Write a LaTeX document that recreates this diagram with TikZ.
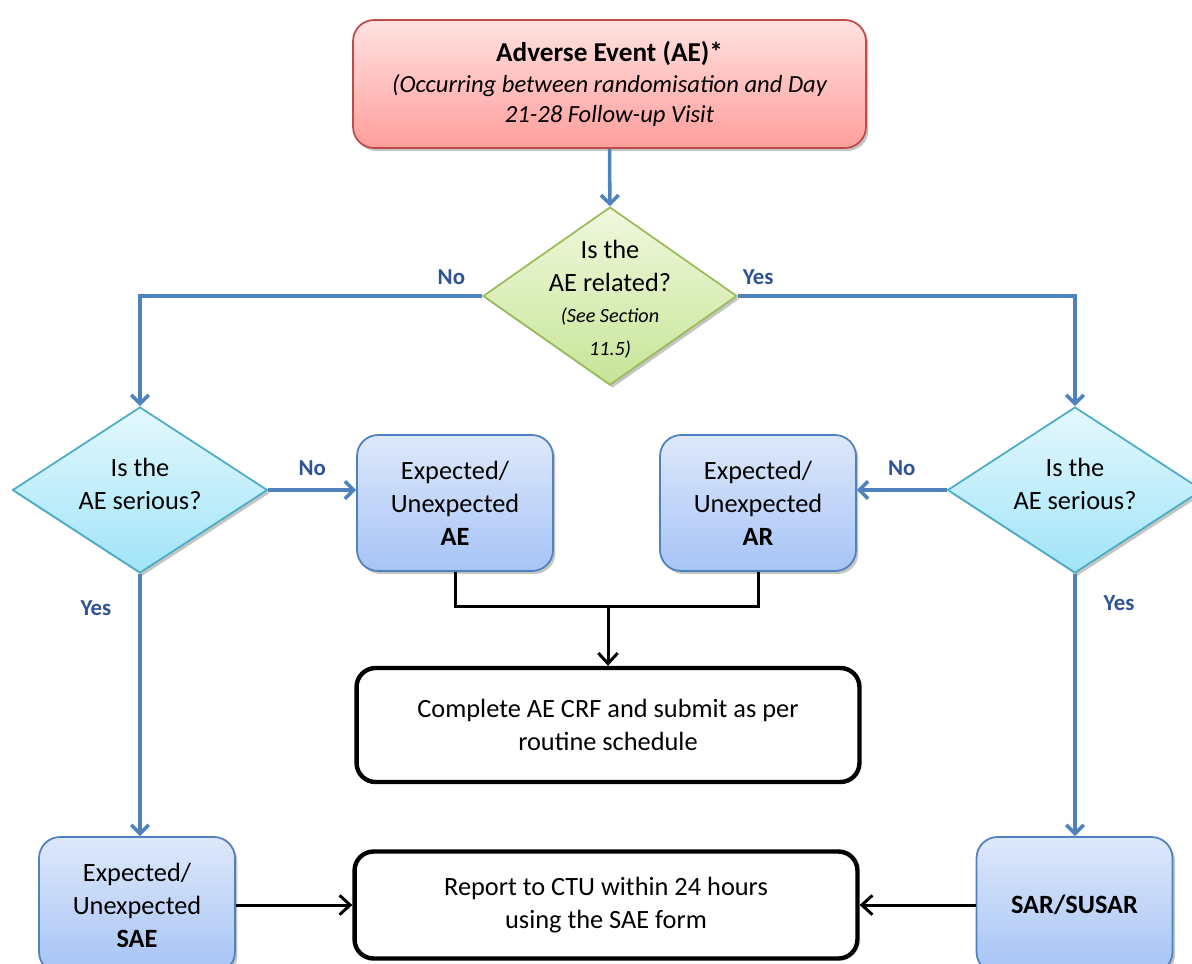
\documentclass[tikz,border=0pt]{standalone}
\usepackage{fontspec}
\setmainfont{Carlito}
\usepackage{tikz}
\usetikzlibrary{shapes.geometric,arrows.meta,positioning,shadows}

\definecolor{lineblue}{RGB}{79,129,189}
\definecolor{labelblue}{RGB}{47,84,150}
\definecolor{redline}{RGB}{190,75,72}
\definecolor{redtop}{RGB}{255,226,225}
\definecolor{redbot}{RGB}{255,158,155}
\definecolor{greenline}{RGB}{155,187,89}
\definecolor{greentop}{RGB}{240,248,222}
\definecolor{greenbot}{RGB}{198,229,151}
\definecolor{cyanline}{RGB}{75,172,198}
\definecolor{cyantop}{RGB}{228,248,253}
\definecolor{cyanbot}{RGB}{160,228,248}
\definecolor{bluetop}{RGB}{222,232,251}
\definecolor{bluebot}{RGB}{166,196,245}

\begin{document}
\begin{tikzpicture}[x=0.02cm,y=-0.02cm,
    txt/.style={font=\fontsize{15}{18.8}\selectfont, align=center},
    boxshadow/.style={drop shadow={shadow xshift=0.05cm, shadow yshift=-0.06cm, fill=black!45, opacity=0.5}},
    eventbox/.style={txt, rectangle, rounded corners=0.42cm, draw=redline, line width=1pt,
        top color=redtop, bottom color=redbot, boxshadow, minimum width=10.26cm, minimum height=2.56cm},
    relbox/.style={diamond, draw=greenline, line width=1pt, top color=greentop, bottom color=greenbot,
        boxshadow, minimum width=5.08cm, minimum height=3.56cm, inner sep=0pt},
    serbox/.style={diamond, draw=cyanline, line width=1pt, top color=cyantop, bottom color=cyanbot,
        boxshadow, minimum width=5.1cm, minimum height=3.32cm, inner sep=0pt},
    kindbox/.style={txt, rectangle, rounded corners=0.42cm, draw=lineblue, line width=1pt,
        top color=bluetop, bottom color=bluebot, boxshadow, minimum width=3.92cm, minimum height=2.72cm},
    actionbox/.style={txt, rectangle, rounded corners=0.38cm, draw=black, line width=2.5pt,
        fill=white, minimum width=10.06cm},
    bluearrow/.style={draw=lineblue, line width=2pt, -{Straight Barb[length=5pt,width=10pt]}},
    blackline/.style={draw=black, line width=1.7pt},
    blackarrow/.style={blackline, -{Straight Barb[length=6pt,width=11pt]}},
    answer/.style={font=\fontsize{13}{15}\selectfont\bfseries, text=labelblue}
]
    \useasboundingbox (0,0) rectangle (1192,963);

    % Start
    \node[eventbox] (event) at (609.5,84) {\textbf{\fontsize{15.5}{19}\selectfont Adverse Event (AE)*}\\[-1pt]
        \fontsize{14}{17}\selectfont\itshape (Occurring between randomisation and Day\\[-1.5pt]
        \fontsize{14}{17}\selectfont\itshape 21-28 Follow-up Visit};

    % Questions
    \node[relbox] (rel) at (610,296) {};
    \node[txt] (reltext) at (610,299) {Is the\\AE related?\\[-1pt]
        {\fontsize{11.5}{16.5}\selectfont\itshape (See Section}\\
        {\fontsize{11.5}{16.5}\selectfont\itshape 11.5)}};
    \node[serbox] (serL) at (140,490) {};
    \node[txt] (serLtext) at (140,484) {Is the\\AE serious?};
    \node[serbox] (serR) at (1075,490) {};
    \node[txt] (serRtext) at (1075,484) {Is the\\AE serious?};

    % Outcomes
    \node[kindbox] (ae) at (455,503) {Expected/\\Unexpected\\\textbf{AE}};
    \node[kindbox] (ar) at (758,503) {Expected/\\Unexpected\\\textbf{AR}};
    \node[kindbox] (sae) at (137,905) {Expected/\\Unexpected\\\textbf{SAE}};
    \node[kindbox] (sar) at (1074.5,905) {\textbf{SAR/SUSAR}};

    % Actions
    \node[actionbox, minimum height=2.28cm] (complete) at (608,725) {Complete AE CRF and submit as per\\routine schedule};
    \node[actionbox, minimum height=2.14cm] (report) at (606,905) {Report to CTU within 24 hours\\using the SAE form};
    \coordinate (join) at (608,606);

    % Connectors
    \draw[bluearrow] (event) -- (rel);
    \draw[bluearrow] (rel.west) -| node[answer, pos=0.045, above=2pt] {No} (serL.north);
    \draw[bluearrow] (rel.east) -| node[answer, pos=0.03, above=2pt] {Yes} (serR.north);
    \draw[bluearrow] (serL.east) -- node[answer, above=4pt] {No} (ae.west |- serL.east);
    \draw[bluearrow] (serR.west) -- node[answer, above=4pt] {No} (ar.east |- serR.west);
    \draw[bluearrow] (serL.south) -- node[answer, pos=0.13, left=12pt] {Yes} (serL.south |- sae.north);
    \draw[bluearrow] (serR.south) -- node[answer, pos=0.11, right=12pt] {Yes} (serR.south |- sar.north);
    \draw[blackline] (ae.south) |- (join) -| (ar.south);
    \draw[blackarrow] (join) -- (complete.north);
    \draw[blackarrow] (sae.east) -- (report.west);
    \draw[blackarrow] (sar.west) -- (report.east);
\end{tikzpicture}
\end{document}
